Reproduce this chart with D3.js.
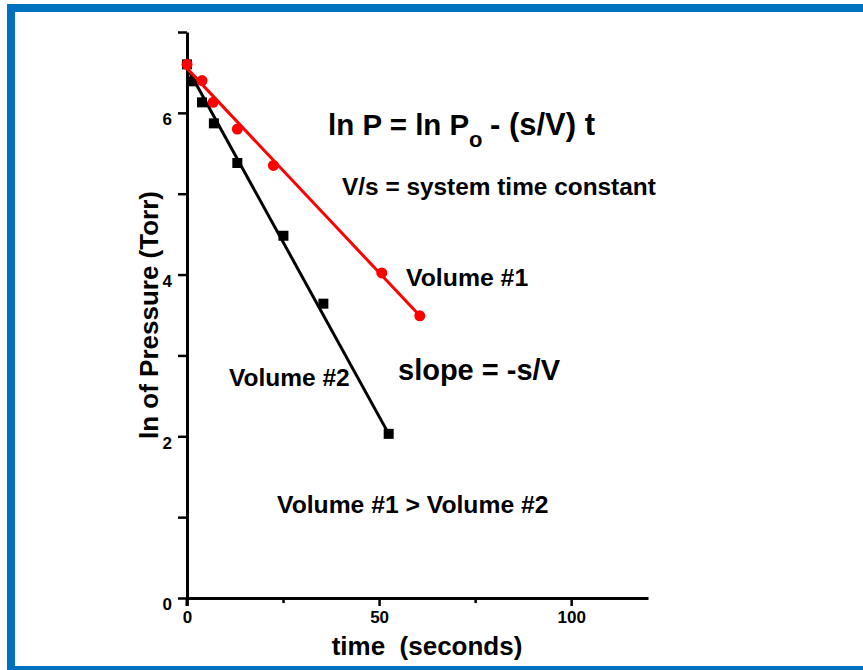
<!DOCTYPE html>
<html>
<head>
<meta charset="utf-8">
<script src="https://cdn.jsdelivr.net/npm/d3@7"></script>
<style>
  html, body { margin: 0; padding: 0; background: #fff; }
  svg { display: block; font-family: "Liberation Sans", Arial, Helvetica, sans-serif; font-weight: bold; }
  text { white-space: pre; }
</style>
</head>
<body>
<svg id="chart" width="863" height="670"></svg>
<script>
// ---- data ----
const vol1Time = [0, 3.9, 6.8, 13.1, 22.5, 50.7, 60.6];
const vol1LnP  = [6.60, 6.40, 6.13, 5.80, 5.35, 4.02, 3.49];
const vol2Time = [0, 1.3, 3.9, 7.0, 13.1, 25.1, 35.5, 52.5];
const vol2LnP  = [6.60, 6.39, 6.13, 5.87, 5.38, 4.48, 3.64, 2.03];
const vol1FitTime = [0, 60.6];
const vol1FitLnP  = [6.55, 3.49];
const vol2FitTime = [0, 52.5];
const vol2FitLnP  = [6.56, 2.03];
const xMajorTicks = [0, 50, 100];
const xMinorTicks = [25, 75];
const yTicks = [0, 1, 2, 3, 4, 5, 6, 7];
const yTickLabels = {0: "0", 2: "2", 4: "4", 6: "6"};

const svg = d3.select("#chart");
const blue = "#0071BF";
const FONT = "'Liberation Sans', Arial, Helvetica, sans-serif";

// frame
svg.append("rect").attr("x", 0).attr("y", 0).attr("width", 863).attr("height", 670).attr("fill", "#fff");
svg.append("rect").attr("x", 7).attr("y", 4).attr("width", 856).attr("height", 8).attr("fill", blue);
svg.append("rect").attr("x", 7).attr("y", 4).attr("width", 8).attr("height", 666).attr("fill", blue);
svg.append("rect").attr("x", 7).attr("y", 666).attr("width", 856).attr("height", 4).attr("fill", blue);

const x = d3.scaleLinear().domain([0, 120]).range([187, 648]);
const y = d3.scaleLinear().domain([0, 7]).range([598, 32]);

// y axis
const yAxis = svg.append("g").attr("transform", `translate(${x(0)},0)`)
  .call(d3.axisLeft(y).tickValues(yTicks).tickSize(9).tickSizeOuter(0).tickPadding(6)
    .tickFormat(d => yTickLabels[d] || ""));
yAxis.attr("font-family", null).attr("font-size", null);
yAxis.select(".domain").attr("stroke", "#000").attr("stroke-width", 3);
yAxis.selectAll(".tick line").attr("stroke", "#000").attr("stroke-width", 2.5);
yAxis.selectAll(".tick text").style("font-size", "17px").style("font-weight", "bold")
  .style("font-family", FONT).attr("fill", "#000").attr("dy", "0.7em");

// x axis
const xAxis = svg.append("g").attr("transform", `translate(0,${y(0)})`)
  .call(d3.axisBottom(x).tickValues(xMajorTicks.concat(xMinorTicks)).tickSize(8).tickSizeOuter(0).tickPadding(5)
    .tickFormat(d => xMajorTicks.includes(d) ? String(d) : ""));
xAxis.attr("font-family", null).attr("font-size", null);
xAxis.select(".domain").attr("stroke", "#000").attr("stroke-width", 3);
xAxis.selectAll(".tick line").attr("stroke", "#000").attr("stroke-width", 2.5)
  .attr("y2", d => xMajorTicks.includes(d) ? 8 : 5);
xAxis.selectAll(".tick text").style("font-size", "17px").style("font-weight", "bold")
  .style("font-family", FONT).attr("fill", "#000");

// extend y axis down to x zero tick
svg.append("line").attr("x1", x(0)).attr("x2", x(0)).attr("y1", y(0)).attr("y2", y(0) + 8)
  .attr("stroke", "#000").attr("stroke-width", 3);

const line = d3.line().x(d => x(d[0])).y(d => y(d[1]));

// volume #2 (black)
svg.append("path").datum(vol2FitTime.map((t, i) => [t, vol2FitLnP[i]]))
  .attr("d", line).attr("fill", "none").attr("stroke", "#000").attr("stroke-width", 3);
svg.selectAll(".sq").data(vol2Time.map((t, i) => [t, vol2LnP[i]])).enter().append("rect")
  .attr("class", "sq").attr("x", d => x(d[0]) - 5).attr("y", d => y(d[1]) - 5)
  .attr("width", 10).attr("height", 10).attr("fill", "#000");

// volume #1 (red)
svg.append("path").datum(vol1FitTime.map((t, i) => [t, vol1FitLnP[i]]))
  .attr("d", line).attr("fill", "none").attr("stroke", "#ff0000").attr("stroke-width", 3);
svg.selectAll(".dot").data(vol1Time.map((t, i) => [t, vol1LnP[i]])).enter().append("circle")
  .attr("class", "dot").attr("cx", d => x(d[0])).attr("cy", d => y(d[1]))
  .attr("r", 5.5).attr("fill", "#ff0000");

// annotations
function txt(s, px, py, size) {
  return svg.append("text").attr("x", px).attr("y", py).attr("font-size", size)
    .attr("fill", "#000").text(s);
}
txt("ln P = ln P", 328, 135, 29.5);
txt("o", 469, 147, 22);
txt("- (s/V) t", 490, 135, 31);
txt("V/s = system time constant", 342, 195, 24.4);
txt("Volume #1", 406, 286, 24.8);
txt("slope = -s/V", 398, 380, 29);
txt("Volume #2", 229, 386, 24.5);
txt("Volume #1 > Volume #2", 277, 513, 24.7);

// axis titles
svg.append("text").attr("x", 427).attr("y", 655).attr("text-anchor", "middle")
  .attr("font-size", 26).attr("fill", "#000").text("time  (seconds)");
svg.append("text").attr("transform", "translate(158,315) rotate(-90)").attr("text-anchor", "middle")
  .attr("font-size", 26).attr("fill", "#000").text("ln of Pressure (Torr)");
</script>
</body>
</html>
